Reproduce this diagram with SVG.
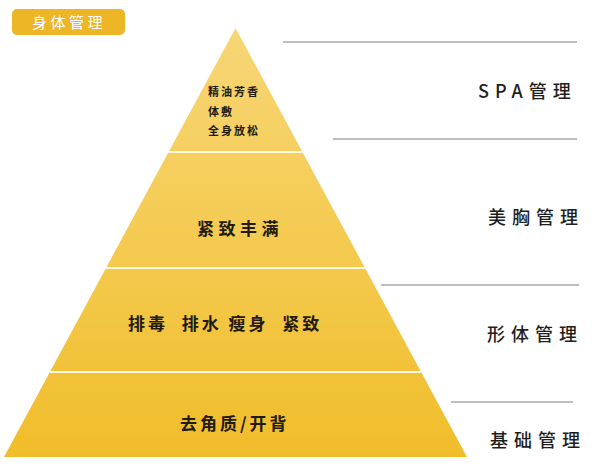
<svg xmlns="http://www.w3.org/2000/svg" width="594" height="470" viewBox="0 0 594 470">
<defs>
<linearGradient id="g" x1="0" y1="28" x2="0" y2="457" gradientUnits="userSpaceOnUse">
<stop offset="0" stop-color="#F7D676"/>
<stop offset="0.5" stop-color="#F4CA50"/>
<stop offset="1" stop-color="#F0BD2A"/>
</linearGradient>
<clipPath id="tri"><polygon points="235.5,28 467,457 4,457"/></clipPath>
<style>
.t{font-family:"Noto Sans CJK SC","Noto Sans",sans-serif;font-weight:bold;fill:#231a10}
.r{font-family:"Noto Sans CJK SC","Noto Sans",sans-serif;font-weight:500;fill:#1e1e1e;font-size:18px;letter-spacing:6px}
.sep{stroke:#FFF8E0;stroke-width:2}
.gl{stroke:#A9A9A9;stroke-width:1.5}
</style>
</defs>
<rect width="594" height="470" fill="#fff"/>
<g id="title">
<rect x="12" y="9" width="113" height="26" rx="5" fill="#EDB626"/>
<text x="32" y="27.5" font-family="Noto Sans CJK SC,sans-serif" font-size="15" fill="#fff" letter-spacing="3.5">身体管理</text>
</g>
<g id="pyramid">
<polygon points="235.5,28 467,457 4,457" fill="url(#g)"/>
<g clip-path="url(#tri)">
<line class="sep" x1="0" y1="152" x2="594" y2="152"/>
<line class="sep" x1="0" y1="268" x2="594" y2="268"/>
<line class="sep" x1="0" y1="372" x2="594" y2="372"/>
</g>
</g>
<g id="level1">
<text class="t" font-size="11" letter-spacing="2" x="208" y="96">精油芳香</text>
<text class="t" font-size="11" letter-spacing="2" x="208" y="116">体敷</text>
<text class="t" font-size="11" letter-spacing="2" x="208" y="135">全身放松</text>
</g>
<g id="level2"><text class="t" font-size="17" letter-spacing="4.5" x="197" y="235">紧致丰满</text></g>
<g id="level3"><text class="t" font-size="17" letter-spacing="3" x="128" y="330" xml:space="preserve">排毒  排水 瘦身  紧致</text></g>
<g id="level4"><text class="t" font-size="17" letter-spacing="3" x="180" y="430">去角质/开背</text></g>
<g id="connectors">
<line class="gl" x1="283" y1="42" x2="577" y2="42"/>
<line class="gl" x1="333" y1="139" x2="577" y2="139"/>
<line class="gl" x1="381" y1="285" x2="579" y2="285"/>
<line class="gl" x1="451" y1="402" x2="573" y2="402"/>
</g>
<g id="label-spa"><text class="r" x="478" y="98">SPA管理</text></g>
<g id="label-chest"><text class="r" x="488" y="224">美胸管理</text></g>
<g id="label-body"><text class="r" x="487" y="341">形体管理</text></g>
<g id="label-base"><text class="r" x="490" y="447">基础管理</text></g>
</svg>
